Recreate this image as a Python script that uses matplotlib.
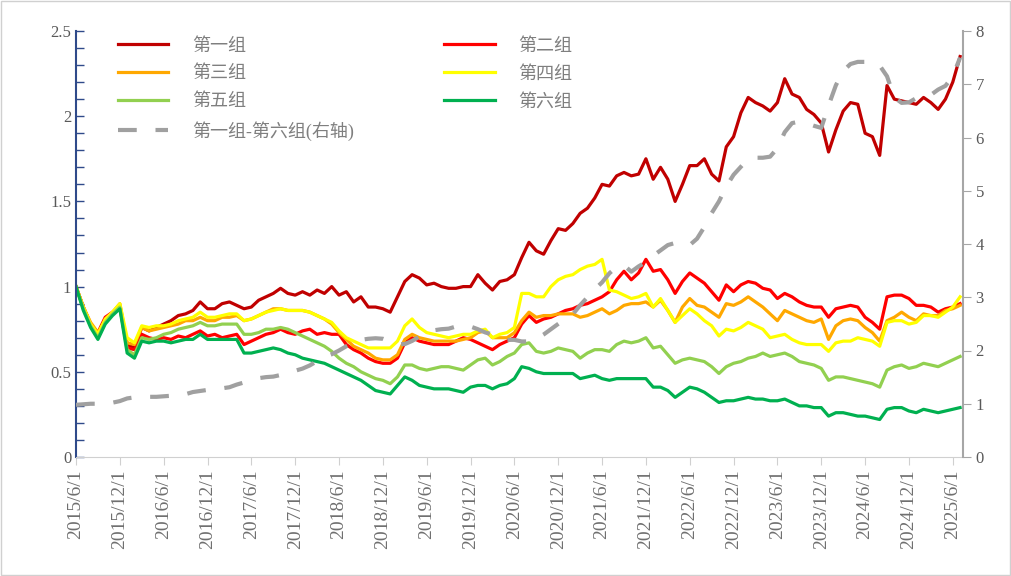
import matplotlib
matplotlib.use("Agg")
import matplotlib.pyplot as plt
import numpy as np
import pandas as pd

# monthly points, 2015/6 .. 2025/7
dates = pd.date_range("2015-06-01", periods=122, freq="MS")

g1 = [1.00, 0.88, 0.78, 0.72, 0.81, 0.84, 0.89, 0.66, 0.64, 0.76,
      0.74, 0.76, 0.78, 0.80, 0.83, 0.84, 0.86, 0.91, 0.87, 0.87,
      0.90, 0.91, 0.89, 0.87, 0.88, 0.92, 0.94, 0.96, 0.99, 0.96,
      0.95, 0.97, 0.95, 0.98, 0.96, 1.00, 0.95, 0.97, 0.91, 0.94,
      0.88, 0.88, 0.87, 0.85, 0.94, 1.03, 1.07, 1.05, 1.01, 1.02,
      1.00, 0.99, 0.99, 1.00, 1.00, 1.07, 1.02, 0.98, 1.03, 1.04,
      1.07, 1.17, 1.26, 1.21, 1.19, 1.27, 1.34, 1.33, 1.37, 1.43,
      1.46, 1.52, 1.60, 1.59, 1.65, 1.67, 1.65, 1.66, 1.75, 1.63,
      1.70, 1.63, 1.50, 1.60, 1.71, 1.71, 1.75, 1.66, 1.62, 1.82,
      1.88, 2.02, 2.11, 2.08, 2.06, 2.03, 2.08, 2.22, 2.13, 2.11,
      2.04, 2.01, 1.96, 1.79, 1.92, 2.03, 2.08, 2.07, 1.90, 1.88,
      1.77, 2.18, 2.10, 2.09, 2.08, 2.07, 2.11, 2.08, 2.04, 2.10,
      2.20, 2.35]
g2 = [1.00, 0.88, 0.78, 0.73, 0.82, 0.85, 0.88, 0.64, 0.63, 0.72,
      0.70, 0.69, 0.70, 0.69, 0.71, 0.70, 0.72, 0.74, 0.71, 0.72,
      0.70, 0.71, 0.72, 0.66, 0.68, 0.70, 0.72, 0.73, 0.75, 0.73,
      0.72, 0.74, 0.75, 0.72, 0.73, 0.72, 0.72, 0.66, 0.63, 0.61,
      0.58, 0.56, 0.55, 0.55, 0.58, 0.67, 0.70, 0.68, 0.67, 0.66,
      0.66, 0.66, 0.68, 0.70, 0.69, 0.67, 0.65, 0.63, 0.66, 0.68,
      0.70, 0.78, 0.83, 0.79, 0.81, 0.82, 0.84, 0.86, 0.87, 0.89,
      0.90, 0.92, 0.94, 0.97, 1.04, 1.09, 1.04, 1.08, 1.16, 1.09,
      1.10, 1.04, 0.96, 1.03, 1.08, 1.05, 1.02, 0.97, 0.92, 1.01,
      0.97, 1.01, 1.03, 1.02, 0.99, 0.98, 0.93, 0.96, 0.94, 0.91,
      0.89, 0.88, 0.88, 0.82, 0.87, 0.88, 0.89, 0.88, 0.82, 0.79,
      0.75, 0.94, 0.95, 0.95, 0.93, 0.89, 0.89, 0.88, 0.85, 0.87,
      0.88, 0.90]
g3 = [1.00, 0.88, 0.79, 0.73, 0.80, 0.85, 0.90, 0.67, 0.66, 0.76,
      0.74, 0.75, 0.76, 0.77, 0.78, 0.80, 0.80, 0.82, 0.80, 0.80,
      0.82, 0.82, 0.83, 0.80, 0.81, 0.83, 0.85, 0.87, 0.87, 0.86,
      0.86, 0.86, 0.85, 0.83, 0.81, 0.78, 0.73, 0.69, 0.65, 0.63,
      0.61, 0.58, 0.57, 0.57, 0.60, 0.69, 0.72, 0.70, 0.69, 0.68,
      0.68, 0.68, 0.68, 0.69, 0.70, 0.73, 0.74, 0.70, 0.70, 0.70,
      0.73, 0.80, 0.85, 0.82, 0.83, 0.83, 0.84, 0.84, 0.84, 0.82,
      0.83, 0.85, 0.87, 0.84, 0.86, 0.89, 0.90, 0.90, 0.91, 0.88,
      0.92, 0.86, 0.79, 0.88, 0.93, 0.89, 0.88, 0.85, 0.82, 0.90,
      0.89, 0.91, 0.94, 0.91, 0.88, 0.84, 0.80, 0.86, 0.84, 0.82,
      0.80, 0.79, 0.81, 0.69, 0.77, 0.80, 0.81, 0.80, 0.76, 0.73,
      0.68, 0.80, 0.82, 0.85, 0.82, 0.80, 0.84, 0.83, 0.83, 0.86,
      0.87, 0.89]
g4 = [1.00, 0.88, 0.78, 0.72, 0.81, 0.85, 0.90, 0.70, 0.67, 0.77,
      0.76, 0.77, 0.77, 0.78, 0.80, 0.81, 0.82, 0.85, 0.82, 0.82,
      0.83, 0.84, 0.84, 0.80, 0.81, 0.83, 0.85, 0.86, 0.87, 0.86,
      0.86, 0.86, 0.85, 0.83, 0.81, 0.79, 0.74, 0.70, 0.68, 0.66,
      0.64, 0.64, 0.64, 0.64, 0.68, 0.77, 0.81, 0.76, 0.73, 0.72,
      0.71, 0.70, 0.71, 0.72, 0.72, 0.74, 0.75, 0.70, 0.72, 0.73,
      0.76, 0.96, 0.96, 0.94, 0.94, 1.00, 1.04, 1.06, 1.07, 1.10,
      1.12, 1.13, 1.16, 0.98, 0.97, 0.95, 0.93, 0.94, 0.96, 0.88,
      0.93, 0.86, 0.79, 0.83, 0.87, 0.84, 0.80, 0.77, 0.71, 0.75,
      0.74, 0.76, 0.79, 0.77, 0.75, 0.70, 0.71, 0.72, 0.69, 0.67,
      0.66, 0.66, 0.66, 0.62, 0.67, 0.68, 0.68, 0.70, 0.69, 0.68,
      0.65, 0.79, 0.80, 0.80, 0.78, 0.79, 0.83, 0.83, 0.82, 0.85,
      0.88, 0.94]
g5 = [1.00, 0.87, 0.77, 0.70, 0.79, 0.84, 0.88, 0.63, 0.60, 0.70,
      0.69, 0.70, 0.72, 0.73, 0.75, 0.76, 0.77, 0.79, 0.77, 0.77,
      0.78, 0.78, 0.78, 0.72, 0.72, 0.73, 0.75, 0.75, 0.76, 0.75,
      0.73, 0.71, 0.69, 0.67, 0.65, 0.62, 0.58, 0.55, 0.53, 0.50,
      0.48, 0.46, 0.45, 0.43, 0.47, 0.54, 0.54, 0.52, 0.51, 0.52,
      0.53, 0.53, 0.52, 0.51, 0.54, 0.57, 0.58, 0.54, 0.56, 0.59,
      0.61, 0.66, 0.67, 0.62, 0.61, 0.62, 0.64, 0.63, 0.62, 0.58,
      0.61, 0.63, 0.63, 0.62, 0.66, 0.68, 0.67, 0.68, 0.70, 0.64,
      0.65, 0.60, 0.55, 0.57, 0.58, 0.57, 0.56, 0.53, 0.49, 0.53,
      0.55, 0.56, 0.58, 0.59, 0.61, 0.59, 0.60, 0.61, 0.59, 0.56,
      0.55, 0.54, 0.52, 0.45, 0.47, 0.47, 0.46, 0.45, 0.44, 0.43,
      0.41, 0.51, 0.53, 0.54, 0.52, 0.53, 0.55, 0.54, 0.53, 0.55,
      0.57, 0.59]
g6 = [1.00, 0.86, 0.76, 0.69, 0.78, 0.83, 0.87, 0.61, 0.58, 0.68,
      0.67, 0.68, 0.68, 0.67, 0.68, 0.69, 0.69, 0.72, 0.69, 0.69,
      0.69, 0.69, 0.69, 0.61, 0.61, 0.62, 0.63, 0.64, 0.63, 0.61,
      0.60, 0.58, 0.57, 0.56, 0.55, 0.53, 0.51, 0.49, 0.47, 0.45,
      0.42, 0.39, 0.38, 0.37, 0.42, 0.47, 0.45, 0.42, 0.41, 0.40,
      0.40, 0.40, 0.39, 0.38, 0.41, 0.42, 0.42, 0.40, 0.42, 0.43,
      0.46, 0.53, 0.52, 0.50, 0.49, 0.49, 0.49, 0.49, 0.49, 0.46,
      0.47, 0.48, 0.46, 0.45, 0.46, 0.46, 0.46, 0.46, 0.46, 0.41,
      0.41, 0.39, 0.35, 0.38, 0.41, 0.40, 0.38, 0.35, 0.32, 0.33,
      0.33, 0.34, 0.35, 0.34, 0.34, 0.33, 0.33, 0.34, 0.32, 0.30,
      0.30, 0.29, 0.29, 0.24, 0.26, 0.26, 0.25, 0.24, 0.24, 0.23,
      0.22, 0.28, 0.29, 0.29, 0.27, 0.26, 0.28, 0.27, 0.26, 0.27,
      0.28, 0.29]
spread = [0.98, 0.99, 1.00, 1.00, 1.00, 1.02, 1.05, 1.10, 1.12, 1.12,
          1.13, 1.13, 1.14, 1.15, 1.15, 1.18, 1.22, 1.24, 1.26, 1.27,
          1.29, 1.31, 1.36, 1.40, 1.45, 1.48, 1.50, 1.51, 1.54, 1.56,
          1.62, 1.66, 1.72, 1.80, 1.88, 1.93, 2.00, 2.08, 2.15, 2.20,
          2.22, 2.23, 2.22, 2.17, 2.12, 2.12, 2.18, 2.26, 2.33, 2.38,
          2.40, 2.41, 2.45, 2.47, 2.45, 2.40, 2.34, 2.30, 2.24, 2.20,
          2.20, 2.17, 2.17, 2.22, 2.30, 2.40, 2.50, 2.60, 2.68, 2.85,
          3.00, 3.15, 3.28, 3.45, 3.57, 3.60, 3.48, 3.58, 3.66, 3.78,
          3.88, 3.98, 4.02, 4.00, 3.98, 4.10, 4.32, 4.58, 4.80, 5.08,
          5.30, 5.45, 5.60, 5.62, 5.62, 5.64, 5.80, 6.10, 6.27, 6.30,
          6.27, 6.22, 6.18, 6.60, 6.98, 7.25, 7.38, 7.42, 7.42, 7.42,
          7.35, 7.15, 6.75, 6.65, 6.66, 6.74, 6.78, 6.80, 6.90, 6.97,
          7.15, 7.50]

names = ["第一组", "第二组", "第三组", "第四组", "第五组", "第六组"]
colors = ["#C00000", "#FF0000", "#FFA800", "#FFFF00", "#92D050", "#00B050"]
spread_name = "第一组-第六组(右轴)"

x = np.arange(len(dates))
tick_idx = x[::6]
tick_labels = [f"{d.year}/{d.month}/1" for d in dates[::6]]

fig = plt.figure(figsize=(10.11, 5.76), dpi=100)
fig.patches.append(plt.Rectangle((0.001, 0.001), 0.998, 0.997, transform=fig.transFigure,
                                 fill=False, edgecolor="#D0D0D0", linewidth=1))
ax = fig.add_axes([76 / 1011, 1 - 457 / 576, (963 - 76) / 1011, (457 - 31) / 576])
ax2 = ax.twinx()

lines = []
for vals, nm, c in zip([g1, g2, g3, g4, g5, g6], names, colors):
    ln, = ax.plot(x, vals, color=c, lw=2.3, label=nm, solid_joinstyle="round")
    lines.append(ln)
sp, = ax2.plot(x, spread, color="#A0A0A0", lw=3, ls=(0, (4.5, 4.5)), label=spread_name)

ax.set_xlim(0, 121.4)
ax.set_ylim(0, 2.5)
ax2.set_ylim(0, 8)

ax.set_xticks(tick_idx)
ax.set_xticklabels(tick_labels, rotation=90, fontsize=14, color="#6F6F6F",
                   family="Liberation Serif")
ax.set_yticks(np.arange(0, 2.51, 0.5))
ax.set_yticklabels(["0", "0.5", "1", "1.5", "2", "2.5"], fontsize=12, color="#595959",
                   family="Liberation Serif")
ax.set_yticks(np.arange(0, 2.51, 0.1), minor=True)
ax.tick_params(axis="y", which="both", direction="in", length=6, color="#2F4A8A", width=1)
ax.tick_params(axis="x", direction="out", length=6, color="#D0D0D0", pad=3)

ax2.set_yticks(range(0, 9))
ax2.set_yticklabels([str(v) for v in range(0, 9)], fontsize=12, color="#595959",
                    family="Liberation Serif")
ax2.tick_params(axis="y", direction="out", length=6, color="#A6A6A6", pad=3)

for a in (ax, ax2):
    a.spines["top"].set_visible(False)
ax.spines["right"].set_visible(False)
ax2.spines["left"].set_visible(False)
ax2.spines["bottom"].set_visible(False)
ax.spines["left"].set_color("#2F4A8A")
ax.spines["left"].set_linewidth(1.5)
ax.spines["bottom"].set_color("#D0D0D0")
ax2.spines["right"].set_color("#A6A6A6")
ax2.spines["right"].set_linewidth(1.5)

handles = [lines[0], lines[2], lines[4], sp, lines[1], lines[3], lines[5]]
leg = ax2.legend(handles=handles, labels=[h.get_label() for h in handles], ncol=2,
                 loc="upper left", bbox_to_anchor=(0.035, 1.01), frameon=False,
                 prop={"family": ["Liberation Serif", "Noto Sans CJK SC"], "size": 13},
                 handlelength=2.8, handletextpad=1.3, columnspacing=5.0,
                 labelspacing=0.6, borderaxespad=0.2)
for t in leg.get_texts():
    t.set_color("#7F7F7F")

fig.savefig("out.png", dpi=100)
